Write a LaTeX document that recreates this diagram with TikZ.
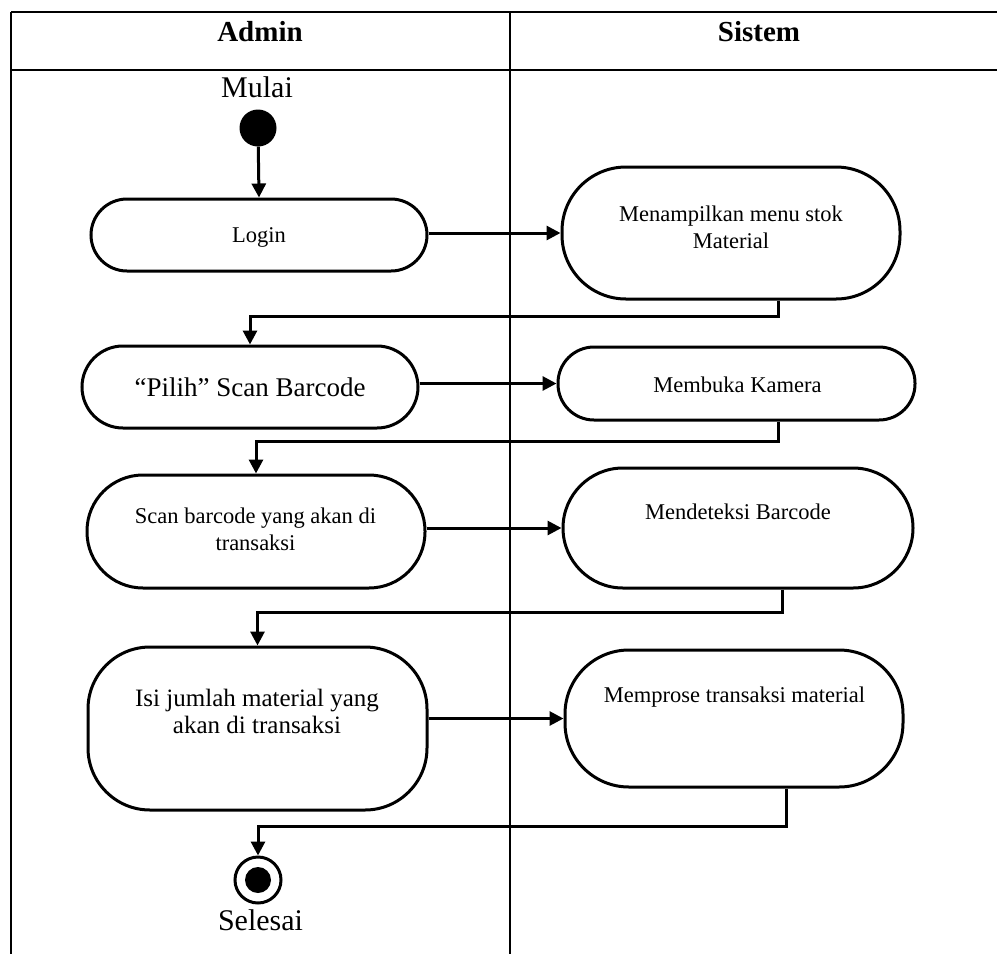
\documentclass[tikz,border=0pt]{standalone}
\usepackage{fontspec}
\setmainfont{Liberation Serif}
\usetikzlibrary{arrows.meta}

\begin{document}
\begin{tikzpicture}[x=1pt,y=-1pt,
  lane/.style={line width=2pt},
  act/.style={draw, line width=3pt, rectangle, inner sep=0pt},
  flow/.style={line width=3pt, -{Triangle[length=14pt,width=14pt]}},
  txt/.style={inner sep=0pt, anchor=base, align=center, font=\fontsize{22.5}{26.5}\selectfont},
  head/.style={inner sep=0pt, anchor=base, font=\fontsize{29}{34}\selectfont\bfseries},
  big/.style={inner sep=0pt, anchor=base, font=\fontsize{30}{34}\selectfont}]
\useasboundingbox (0,0) rectangle (997,954);

% swimlane table
\draw[lane] (11,12) -- (997,12);
\draw[lane] (11,70) -- (997,70);
\draw[lane] (11,12) -- (11,954);
\draw[lane] (510,12) -- (510,954);
\node[head] (hadmin) at (260,41) {Admin};
\node[head] (hsistem) at (759,41) {Sistem};

% start node
\node[big] (mulai) at (257,97) {Mulai};
\node[circle, fill=black, minimum size=37pt, inner sep=0pt] (start) at (258,128) {};

% activities (multi-line labels are anchored on the baseline of their last line)
\node[act, rounded corners=36pt, minimum width=336pt, minimum height=72pt] (login) at (259,235) {};
\node[txt, font=\fontsize{22.5}{26}\selectfont] at (259,242) {Login};

\node[act, rounded corners=64pt, minimum width=338pt, minimum height=132pt] (menu) at (731,233) {};
\node[txt] at (731,248) {Menampilkan menu stok\\Material};

\node[act, rounded corners=41pt, minimum width=336pt, minimum height=82pt] (pilih) at (250,387) {};
\node[txt, font=\fontsize{27}{31}\selectfont] at (250,396) {“Pilih” Scan Barcode};

\node[act, rounded corners=36pt, minimum width=357pt, minimum height=73pt] (kamera) at (736.5,383.5) {};
\node[txt] at (737.5,392) {Membuka Kamera};

\node[act, rounded corners=56pt, minimum width=338pt, minimum height=113pt] (scan) at (256,531.5) {};
\node[txt, font=\fontsize{22.5}{27}\selectfont] at (255.5,550) {Scan barcode yang akan di\\transaksi};

\node[act, rounded corners=60pt, minimum width=350pt, minimum height=120pt] (deteksi) at (738,528) {};
\node[txt] at (738,519) {Mendeteksi Barcode};

\node[act, rounded corners=62pt, minimum width=339pt, minimum height=163pt] (isi) at (257.5,728.5) {};
\node[txt, font=\fontsize{25}{26.5}\selectfont] at (257,733) {Isi jumlah material yang\\akan di transaksi};

\node[act, rounded corners=64pt, minimum width=338pt, minimum height=137pt] (proses) at (734,718.5) {};
\node[txt] at (734.5,702) {Memprose transaksi material};

% end node
\node[circle, draw, line width=3pt, minimum size=46pt, inner sep=0pt] (stop) at (258,880) {};
\node[circle, fill=black, minimum size=26pt, inner sep=0pt] (stopdot) at (stop) {};
\node[big] (selesai) at (260.5,930) {Selesai};

% control flow
\draw[flow] (start) -- (login.north);
\draw[flow] (menu.west -| login.east) -- (menu.west);
\draw[flow] ([xshift=47pt]menu.south) -- ++(0,16) -| (pilih.north);
\draw[flow] (kamera.west -| pilih.east) -- (kamera.west);
\draw[flow] ([xshift=41.5pt]kamera.south) -- ++(0,20) -| (scan.north);
\draw[flow] (deteksi.west -| scan.east) -- (deteksi.west);
\draw[flow] ([xshift=44pt]deteksi.south) -- ++(0,23) -| (isi.north);
\draw[flow] (proses.west -| isi.east) -- (proses.west);
\draw[flow] ([xshift=52pt]proses.south) -- ++(0,38) -| (stop.north);
\end{tikzpicture}
\end{document}
